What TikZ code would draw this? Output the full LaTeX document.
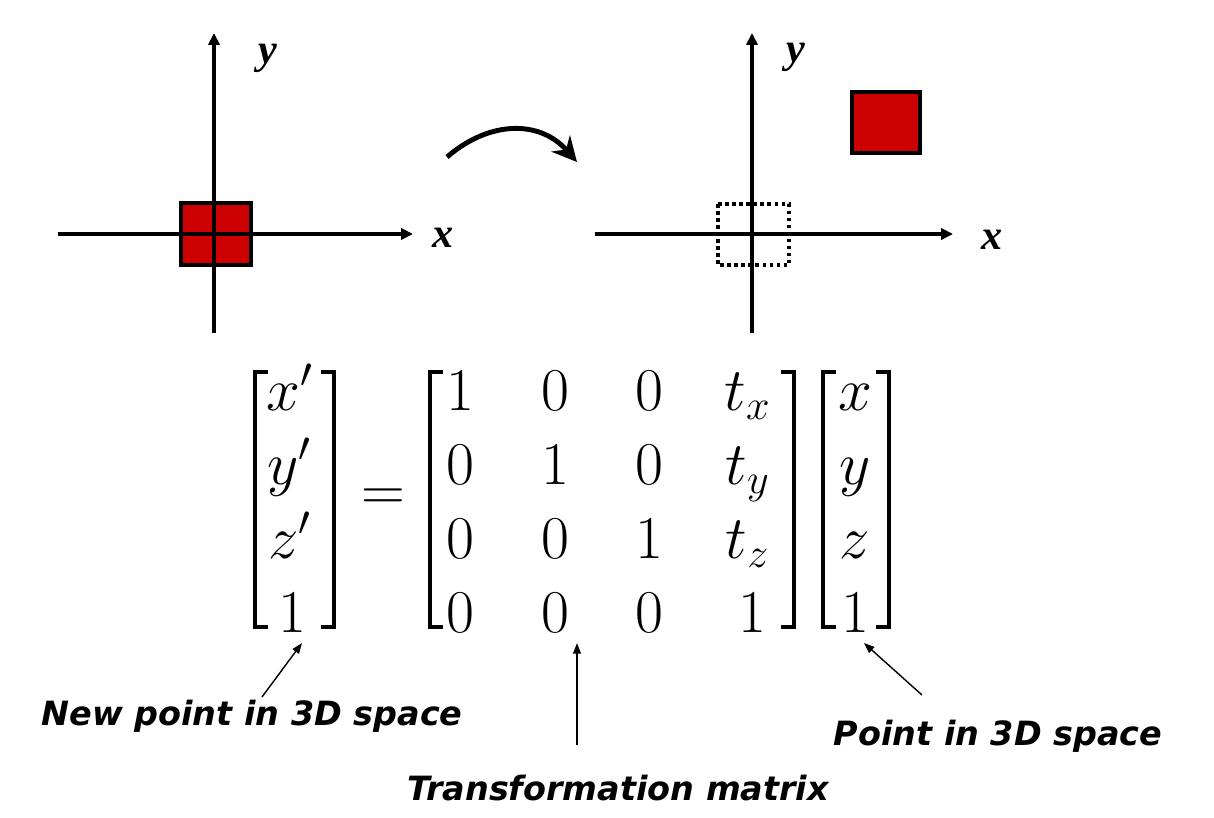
\documentclass[tikz,border=0pt]{standalone}
\usepackage{fontspec}
\newfontfamily\labfont{DejaVu Sans}
\newfontfamily\axfont{Liberation Serif}
\usetikzlibrary{arrows.meta}
\definecolor{sqred}{HTML}{CC0000}
\begin{document}
\begin{tikzpicture}[x=0.01cm,y=-0.01cm,
  axisline/.style={line width=1pt,-{Triangle[length=3.4pt,width=3.2pt]}},
  redsq/.style={fill=sqred,draw=black,line width=1pt},
  ghostsq/.style={draw=black,line width=1pt,dash pattern=on 1pt off 1pt},
  axlab/.style={font=\axfont\fontsize{12}{13}\selectfont\bfseries\itshape,inner sep=0pt},
  entry/.style={font=\fontsize{17}{20}\selectfont,anchor=base,inner sep=0pt},
  brk/.style={line width=1.3pt},
  note/.style={font=\labfont\fontsize{9.5}{11}\selectfont\bfseries\itshape,inner sep=0pt},
  pointer/.style={line width=0.4pt,-{Triangle[length=3pt,width=2.2pt]}},
  curvedarrow/.style={line width=1.4pt,-{Stealth[length=7pt,width=7pt]}}]
\useasboundingbox (0,0) rectangle (1214,818);
% left panel
\draw[redsq] (181,203) rectangle (251,265);
\draw[axisline] (58,234) -- (413,234);
\draw[axisline] (214,333) -- (214,33);
\node[axlab] (ly) at (268,58) {y};
\node[axlab] (lx) at (443,238) {x};
% curved arrow
\coordinate (cs) at (447,157);
\coordinate (ce) at (577,162);
\draw[curvedarrow] (cs) .. controls (490,120) and (540,120) .. (ce);
% right panel
\draw[ghostsq] (718,204) rectangle (789,265);
\draw[redsq] (852,92) rectangle (920,153);
\draw[axisline] (595,234) -- (953,234);
\draw[axisline] (752,333) -- (752,33);
\node[axlab] (ry) at (796,57) {y};
\node[axlab] (rx) at (992,240) {x};
% left vector
\node[entry] (v11) at (290,410) {$x'$};
\node[entry] (v12) at (290,484) {$y'$};
\node[entry] (v13) at (290,558) {$z'$};
\node[entry] (v14) at (292,632) {$1$};
\draw[brk] (268,372) -- (255,372) -- (255,627) -- (268,627);
\draw[brk] (321,372) -- (334,372) -- (334,627) -- (321,627);
% equals
\node[entry,anchor=center] (eq) at (383,500) {$=$};
% matrix
\node[entry] (m11) at (460,410) {$1$};
\node[entry] (m12) at (555,410) {$0$};
\node[entry] (m13) at (649,410) {$0$};
\node[entry] (m14) at (748,410) {$t_x$};
\node[entry] (m21) at (460,484) {$0$};
\node[entry] (m22) at (555,484) {$1$};
\node[entry] (m23) at (649,484) {$0$};
\node[entry] (m24) at (748,484) {$t_y$};
\node[entry] (m31) at (460,558) {$0$};
\node[entry] (m32) at (555,558) {$0$};
\node[entry] (m33) at (649,558) {$1$};
\node[entry] (m34) at (748,558) {$t_z$};
\node[entry] (m41) at (460,632) {$0$};
\node[entry] (m42) at (555,632) {$0$};
\node[entry] (m43) at (649,632) {$0$};
\node[entry] (m44) at (752,632) {$1$};
\draw[brk] (443,372) -- (430,372) -- (430,627) -- (443,627);
\draw[brk] (781,372) -- (794,372) -- (794,627) -- (781,627);
% right vector
\node[entry] (w11) at (855,410) {$x$};
\node[entry] (w12) at (855,484) {$y$};
\node[entry] (w13) at (855,558) {$z$};
\node[entry] (w14) at (855,632) {$1$};
\draw[brk] (836,372) -- (823,372) -- (823,627) -- (836,627);
\draw[brk] (876,372) -- (889,372) -- (889,627) -- (876,627);
% labels
\node[note] (nnew) at (252,716) {New point in 3D space};
\node[note] (ntr) at (618,788) {Transformation matrix};
\node[note] (npt) at (998,736) {Point in 3D space};
\coordinate (a1s) at (262,697);
\coordinate (a1e) at (302,643);
\coordinate (a2s) at (577,745);
\coordinate (a2e) at (577,643);
\coordinate (a3s) at (922,695);
\coordinate (a3e) at (864,643);
\draw[pointer] (a1s) -- (a1e);
\draw[pointer] (a2s) -- (a2e);
\draw[pointer] (a3s) -- (a3e);
\end{tikzpicture}
\end{document}
